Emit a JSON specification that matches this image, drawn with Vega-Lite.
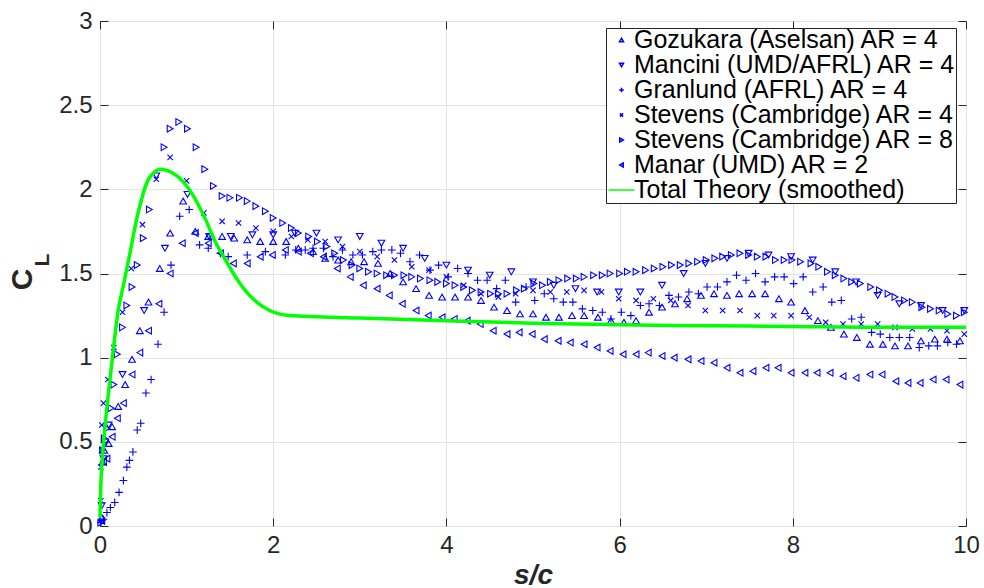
{
  "$schema": "https://vega.github.io/schema/vega-lite/v6.json",
  "width": 866,
  "height": 505,
  "autosize": {"type": "none"},
  "padding": {"left": 100, "top": 21, "right": 18, "bottom": 62},
  "background": "white",
  "config": {
    "view": {"stroke": "#262626", "strokeWidth": 1},
    "font": "Liberation Sans",
    "axis": {"labelFont": "Liberation Sans", "titleFont": "Liberation Sans", "labelColor": "#262626", "titleColor": "#262626", "tickColor": "#262626", "gridColor": "#e3e3e3", "gridOpacity": 1, "domain": false}
  },
  "datasets": {
    "pts": [
      {"s": "Gozukara (Aselsan) AR = 4", "x": 0.02, "y": 0.05},
      {"s": "Gozukara (Aselsan) AR = 4", "x": 0.03, "y": 0.38},
      {"s": "Gozukara (Aselsan) AR = 4", "x": 0.05, "y": 0.45},
      {"s": "Gozukara (Aselsan) AR = 4", "x": 0.10, "y": 0.49},
      {"s": "Gozukara (Aselsan) AR = 4", "x": 0.14, "y": 0.59},
      {"s": "Gozukara (Aselsan) AR = 4", "x": 0.21, "y": 0.71},
      {"s": "Gozukara (Aselsan) AR = 4", "x": 0.29, "y": 0.84},
      {"s": "Gozukara (Aselsan) AR = 4", "x": 0.37, "y": 0.99},
      {"s": "Gozukara (Aselsan) AR = 4", "x": 0.46, "y": 1.16},
      {"s": "Gozukara (Aselsan) AR = 4", "x": 0.56, "y": 1.33},
      {"s": "Gozukara (Aselsan) AR = 4", "x": 0.69, "y": 1.53},
      {"s": "Gozukara (Aselsan) AR = 4", "x": 0.81, "y": 1.74},
      {"s": "Gozukara (Aselsan) AR = 4", "x": 0.96, "y": 1.93},
      {"s": "Gozukara (Aselsan) AR = 4", "x": 1.10, "y": 1.75},
      {"s": "Gozukara (Aselsan) AR = 4", "x": 1.25, "y": 1.72},
      {"s": "Gozukara (Aselsan) AR = 4", "x": 1.41, "y": 1.72},
      {"s": "Gozukara (Aselsan) AR = 4", "x": 1.55, "y": 1.71},
      {"s": "Gozukara (Aselsan) AR = 4", "x": 1.70, "y": 1.70},
      {"s": "Gozukara (Aselsan) AR = 4", "x": 1.85, "y": 1.69},
      {"s": "Gozukara (Aselsan) AR = 4", "x": 2.00, "y": 1.69},
      {"s": "Gozukara (Aselsan) AR = 4", "x": 2.15, "y": 1.69},
      {"s": "Gozukara (Aselsan) AR = 4", "x": 2.29, "y": 1.65},
      {"s": "Gozukara (Aselsan) AR = 4", "x": 2.46, "y": 1.63},
      {"s": "Gozukara (Aselsan) AR = 4", "x": 2.60, "y": 1.59},
      {"s": "Gozukara (Aselsan) AR = 4", "x": 2.75, "y": 1.58},
      {"s": "Gozukara (Aselsan) AR = 4", "x": 2.90, "y": 1.57},
      {"s": "Gozukara (Aselsan) AR = 4", "x": 3.05, "y": 1.57},
      {"s": "Gozukara (Aselsan) AR = 4", "x": 3.21, "y": 1.56},
      {"s": "Gozukara (Aselsan) AR = 4", "x": 3.35, "y": 1.50},
      {"s": "Gozukara (Aselsan) AR = 4", "x": 3.50, "y": 1.45},
      {"s": "Gozukara (Aselsan) AR = 4", "x": 3.65, "y": 1.41},
      {"s": "Gozukara (Aselsan) AR = 4", "x": 3.80, "y": 1.37},
      {"s": "Gozukara (Aselsan) AR = 4", "x": 3.95, "y": 1.36},
      {"s": "Gozukara (Aselsan) AR = 4", "x": 4.10, "y": 1.36},
      {"s": "Gozukara (Aselsan) AR = 4", "x": 4.25, "y": 1.36},
      {"s": "Gozukara (Aselsan) AR = 4", "x": 4.40, "y": 1.34},
      {"s": "Gozukara (Aselsan) AR = 4", "x": 4.55, "y": 1.30},
      {"s": "Gozukara (Aselsan) AR = 4", "x": 4.70, "y": 1.28},
      {"s": "Gozukara (Aselsan) AR = 4", "x": 4.85, "y": 1.26},
      {"s": "Gozukara (Aselsan) AR = 4", "x": 5.00, "y": 1.26},
      {"s": "Gozukara (Aselsan) AR = 4", "x": 5.15, "y": 1.24},
      {"s": "Gozukara (Aselsan) AR = 4", "x": 5.30, "y": 1.24},
      {"s": "Gozukara (Aselsan) AR = 4", "x": 5.45, "y": 1.25},
      {"s": "Gozukara (Aselsan) AR = 4", "x": 5.59, "y": 1.25},
      {"s": "Gozukara (Aselsan) AR = 4", "x": 5.75, "y": 1.24},
      {"s": "Gozukara (Aselsan) AR = 4", "x": 5.90, "y": 1.22},
      {"s": "Gozukara (Aselsan) AR = 4", "x": 6.05, "y": 1.21},
      {"s": "Gozukara (Aselsan) AR = 4", "x": 6.19, "y": 1.22},
      {"s": "Gozukara (Aselsan) AR = 4", "x": 6.34, "y": 1.27},
      {"s": "Gozukara (Aselsan) AR = 4", "x": 6.49, "y": 1.30},
      {"s": "Gozukara (Aselsan) AR = 4", "x": 6.64, "y": 1.32},
      {"s": "Gozukara (Aselsan) AR = 4", "x": 6.78, "y": 1.35},
      {"s": "Gozukara (Aselsan) AR = 4", "x": 6.94, "y": 1.37},
      {"s": "Gozukara (Aselsan) AR = 4", "x": 7.09, "y": 1.38},
      {"s": "Gozukara (Aselsan) AR = 4", "x": 7.24, "y": 1.37},
      {"s": "Gozukara (Aselsan) AR = 4", "x": 7.38, "y": 1.38},
      {"s": "Gozukara (Aselsan) AR = 4", "x": 7.53, "y": 1.38},
      {"s": "Gozukara (Aselsan) AR = 4", "x": 7.68, "y": 1.38},
      {"s": "Gozukara (Aselsan) AR = 4", "x": 7.84, "y": 1.35},
      {"s": "Gozukara (Aselsan) AR = 4", "x": 7.98, "y": 1.33},
      {"s": "Gozukara (Aselsan) AR = 4", "x": 8.14, "y": 1.28},
      {"s": "Gozukara (Aselsan) AR = 4", "x": 8.29, "y": 1.22},
      {"s": "Gozukara (Aselsan) AR = 4", "x": 8.44, "y": 1.18},
      {"s": "Gozukara (Aselsan) AR = 4", "x": 8.59, "y": 1.14},
      {"s": "Gozukara (Aselsan) AR = 4", "x": 8.74, "y": 1.12},
      {"s": "Gozukara (Aselsan) AR = 4", "x": 8.89, "y": 1.08},
      {"s": "Gozukara (Aselsan) AR = 4", "x": 9.04, "y": 1.08},
      {"s": "Gozukara (Aselsan) AR = 4", "x": 9.18, "y": 1.07},
      {"s": "Gozukara (Aselsan) AR = 4", "x": 9.33, "y": 1.07},
      {"s": "Gozukara (Aselsan) AR = 4", "x": 9.48, "y": 1.10},
      {"s": "Gozukara (Aselsan) AR = 4", "x": 9.64, "y": 1.11},
      {"s": "Gozukara (Aselsan) AR = 4", "x": 9.78, "y": 1.11},
      {"s": "Gozukara (Aselsan) AR = 4", "x": 9.93, "y": 1.10},

      {"s": "Mancini (UMD/AFRL) AR = 4", "x": 0.02, "y": 0.12},
      {"s": "Mancini (UMD/AFRL) AR = 4", "x": 0.04, "y": 0.40},
      {"s": "Mancini (UMD/AFRL) AR = 4", "x": 0.06, "y": 0.50},
      {"s": "Mancini (UMD/AFRL) AR = 4", "x": 0.10, "y": 0.60},
      {"s": "Mancini (UMD/AFRL) AR = 4", "x": 0.26, "y": 0.90},
      {"s": "Mancini (UMD/AFRL) AR = 4", "x": 0.51, "y": 1.28},
      {"s": "Mancini (UMD/AFRL) AR = 4", "x": 0.65, "y": 2.08},
      {"s": "Mancini (UMD/AFRL) AR = 4", "x": 0.75, "y": 1.65},
      {"s": "Mancini (UMD/AFRL) AR = 4", "x": 1.01, "y": 1.97},
      {"s": "Mancini (UMD/AFRL) AR = 4", "x": 1.26, "y": 1.72},
      {"s": "Mancini (UMD/AFRL) AR = 4", "x": 1.51, "y": 1.72},
      {"s": "Mancini (UMD/AFRL) AR = 4", "x": 1.76, "y": 1.73},
      {"s": "Mancini (UMD/AFRL) AR = 4", "x": 2.00, "y": 1.73},
      {"s": "Mancini (UMD/AFRL) AR = 4", "x": 2.25, "y": 1.74},
      {"s": "Mancini (UMD/AFRL) AR = 4", "x": 2.50, "y": 1.74},
      {"s": "Mancini (UMD/AFRL) AR = 4", "x": 2.75, "y": 1.70},
      {"s": "Mancini (UMD/AFRL) AR = 4", "x": 3.00, "y": 1.72},
      {"s": "Mancini (UMD/AFRL) AR = 4", "x": 3.25, "y": 1.68},
      {"s": "Mancini (UMD/AFRL) AR = 4", "x": 3.50, "y": 1.65},
      {"s": "Mancini (UMD/AFRL) AR = 4", "x": 3.75, "y": 1.59},
      {"s": "Mancini (UMD/AFRL) AR = 4", "x": 4.00, "y": 1.55},
      {"s": "Mancini (UMD/AFRL) AR = 4", "x": 4.25, "y": 1.52},
      {"s": "Mancini (UMD/AFRL) AR = 4", "x": 4.50, "y": 1.49},
      {"s": "Mancini (UMD/AFRL) AR = 4", "x": 4.75, "y": 1.51},
      {"s": "Mancini (UMD/AFRL) AR = 4", "x": 5.00, "y": 1.45},
      {"s": "Mancini (UMD/AFRL) AR = 4", "x": 5.24, "y": 1.43},
      {"s": "Mancini (UMD/AFRL) AR = 4", "x": 5.49, "y": 1.41},
      {"s": "Mancini (UMD/AFRL) AR = 4", "x": 5.74, "y": 1.39},
      {"s": "Mancini (UMD/AFRL) AR = 4", "x": 5.99, "y": 1.39},
      {"s": "Mancini (UMD/AFRL) AR = 4", "x": 6.24, "y": 1.39},
      {"s": "Mancini (UMD/AFRL) AR = 4", "x": 6.49, "y": 1.43},
      {"s": "Mancini (UMD/AFRL) AR = 4", "x": 6.74, "y": 1.50},
      {"s": "Mancini (UMD/AFRL) AR = 4", "x": 6.99, "y": 1.56},
      {"s": "Mancini (UMD/AFRL) AR = 4", "x": 7.24, "y": 1.59},
      {"s": "Mancini (UMD/AFRL) AR = 4", "x": 7.49, "y": 1.62},
      {"s": "Mancini (UMD/AFRL) AR = 4", "x": 7.72, "y": 1.61},
      {"s": "Mancini (UMD/AFRL) AR = 4", "x": 7.98, "y": 1.60},
      {"s": "Mancini (UMD/AFRL) AR = 4", "x": 8.23, "y": 1.58},
      {"s": "Mancini (UMD/AFRL) AR = 4", "x": 8.49, "y": 1.51},
      {"s": "Mancini (UMD/AFRL) AR = 4", "x": 8.73, "y": 1.45},
      {"s": "Mancini (UMD/AFRL) AR = 4", "x": 8.98, "y": 1.37},
      {"s": "Mancini (UMD/AFRL) AR = 4", "x": 9.23, "y": 1.32},
      {"s": "Mancini (UMD/AFRL) AR = 4", "x": 9.48, "y": 1.31},
      {"s": "Mancini (UMD/AFRL) AR = 4", "x": 9.73, "y": 1.28},
      {"s": "Mancini (UMD/AFRL) AR = 4", "x": 9.98, "y": 1.28},

      {"s": "Granlund (AFRL) AR = 4", "x": 0.01, "y": 0.02},
      {"s": "Granlund (AFRL) AR = 4", "x": 0.04, "y": 0.04},
      {"s": "Granlund (AFRL) AR = 4", "x": 0.08, "y": 0.08},
      {"s": "Granlund (AFRL) AR = 4", "x": 0.12, "y": 0.11},
      {"s": "Granlund (AFRL) AR = 4", "x": 0.17, "y": 0.14},
      {"s": "Granlund (AFRL) AR = 4", "x": 0.22, "y": 0.20},
      {"s": "Granlund (AFRL) AR = 4", "x": 0.27, "y": 0.27},
      {"s": "Granlund (AFRL) AR = 4", "x": 0.31, "y": 0.35},
      {"s": "Granlund (AFRL) AR = 4", "x": 0.34, "y": 0.39},
      {"s": "Granlund (AFRL) AR = 4", "x": 0.38, "y": 0.44},
      {"s": "Granlund (AFRL) AR = 4", "x": 0.43, "y": 0.57},
      {"s": "Granlund (AFRL) AR = 4", "x": 0.47, "y": 0.61},
      {"s": "Granlund (AFRL) AR = 4", "x": 0.53, "y": 0.79},
      {"s": "Granlund (AFRL) AR = 4", "x": 0.59, "y": 0.87},
      {"s": "Granlund (AFRL) AR = 4", "x": 0.67, "y": 1.08},
      {"s": "Granlund (AFRL) AR = 4", "x": 0.74, "y": 1.27},
      {"s": "Granlund (AFRL) AR = 4", "x": 0.82, "y": 1.55},
      {"s": "Granlund (AFRL) AR = 4", "x": 0.92, "y": 1.84},
      {"s": "Granlund (AFRL) AR = 4", "x": 1.03, "y": 1.88},
      {"s": "Granlund (AFRL) AR = 4", "x": 1.15, "y": 1.67},
      {"s": "Granlund (AFRL) AR = 4", "x": 1.25, "y": 1.65},
      {"s": "Granlund (AFRL) AR = 4", "x": 1.39, "y": 1.62},
      {"s": "Granlund (AFRL) AR = 4", "x": 1.48, "y": 1.60},
      {"s": "Granlund (AFRL) AR = 4", "x": 1.70, "y": 1.61},
      {"s": "Granlund (AFRL) AR = 4", "x": 1.91, "y": 1.63},
      {"s": "Granlund (AFRL) AR = 4", "x": 2.14, "y": 1.61},
      {"s": "Granlund (AFRL) AR = 4", "x": 2.26, "y": 1.64},
      {"s": "Granlund (AFRL) AR = 4", "x": 2.37, "y": 1.64},
      {"s": "Granlund (AFRL) AR = 4", "x": 2.46, "y": 1.65},
      {"s": "Granlund (AFRL) AR = 4", "x": 2.58, "y": 1.65},
      {"s": "Granlund (AFRL) AR = 4", "x": 2.69, "y": 1.60},
      {"s": "Granlund (AFRL) AR = 4", "x": 2.80, "y": 1.64},
      {"s": "Granlund (AFRL) AR = 4", "x": 2.92, "y": 1.61},
      {"s": "Granlund (AFRL) AR = 4", "x": 3.03, "y": 1.61},
      {"s": "Granlund (AFRL) AR = 4", "x": 3.15, "y": 1.63},
      {"s": "Granlund (AFRL) AR = 4", "x": 3.25, "y": 1.64},
      {"s": "Granlund (AFRL) AR = 4", "x": 3.37, "y": 1.64},
      {"s": "Granlund (AFRL) AR = 4", "x": 3.47, "y": 1.62},
      {"s": "Granlund (AFRL) AR = 4", "x": 3.58, "y": 1.57},
      {"s": "Granlund (AFRL) AR = 4", "x": 3.69, "y": 1.61},
      {"s": "Granlund (AFRL) AR = 4", "x": 3.81, "y": 1.52},
      {"s": "Granlund (AFRL) AR = 4", "x": 3.91, "y": 1.55},
      {"s": "Granlund (AFRL) AR = 4", "x": 4.02, "y": 1.48},
      {"s": "Granlund (AFRL) AR = 4", "x": 4.13, "y": 1.53},
      {"s": "Granlund (AFRL) AR = 4", "x": 4.25, "y": 1.50},
      {"s": "Granlund (AFRL) AR = 4", "x": 4.36, "y": 1.46},
      {"s": "Granlund (AFRL) AR = 4", "x": 4.47, "y": 1.46},
      {"s": "Granlund (AFRL) AR = 4", "x": 4.58, "y": 1.41},
      {"s": "Granlund (AFRL) AR = 4", "x": 4.68, "y": 1.46},
      {"s": "Granlund (AFRL) AR = 4", "x": 4.80, "y": 1.33},
      {"s": "Granlund (AFRL) AR = 4", "x": 4.92, "y": 1.42},
      {"s": "Granlund (AFRL) AR = 4", "x": 5.02, "y": 1.34},
      {"s": "Granlund (AFRL) AR = 4", "x": 5.13, "y": 1.38},
      {"s": "Granlund (AFRL) AR = 4", "x": 5.24, "y": 1.35},
      {"s": "Granlund (AFRL) AR = 4", "x": 5.35, "y": 1.33},
      {"s": "Granlund (AFRL) AR = 4", "x": 5.46, "y": 1.33},
      {"s": "Granlund (AFRL) AR = 4", "x": 5.57, "y": 1.29},
      {"s": "Granlund (AFRL) AR = 4", "x": 5.69, "y": 1.28},
      {"s": "Granlund (AFRL) AR = 4", "x": 5.80, "y": 1.27},
      {"s": "Granlund (AFRL) AR = 4", "x": 5.90, "y": 1.23},
      {"s": "Granlund (AFRL) AR = 4", "x": 6.02, "y": 1.27},
      {"s": "Granlund (AFRL) AR = 4", "x": 6.13, "y": 1.25},
      {"s": "Granlund (AFRL) AR = 4", "x": 6.24, "y": 1.31},
      {"s": "Granlund (AFRL) AR = 4", "x": 6.34, "y": 1.32},
      {"s": "Granlund (AFRL) AR = 4", "x": 6.46, "y": 1.31},
      {"s": "Granlund (AFRL) AR = 4", "x": 6.57, "y": 1.37},
      {"s": "Granlund (AFRL) AR = 4", "x": 6.68, "y": 1.36},
      {"s": "Granlund (AFRL) AR = 4", "x": 6.80, "y": 1.39},
      {"s": "Granlund (AFRL) AR = 4", "x": 6.91, "y": 1.38},
      {"s": "Granlund (AFRL) AR = 4", "x": 7.01, "y": 1.42},
      {"s": "Granlund (AFRL) AR = 4", "x": 7.13, "y": 1.42},
      {"s": "Granlund (AFRL) AR = 4", "x": 7.24, "y": 1.45},
      {"s": "Granlund (AFRL) AR = 4", "x": 7.35, "y": 1.49},
      {"s": "Granlund (AFRL) AR = 4", "x": 7.46, "y": 1.46},
      {"s": "Granlund (AFRL) AR = 4", "x": 7.57, "y": 1.50},
      {"s": "Granlund (AFRL) AR = 4", "x": 7.68, "y": 1.45},
      {"s": "Granlund (AFRL) AR = 4", "x": 7.79, "y": 1.48},
      {"s": "Granlund (AFRL) AR = 4", "x": 7.90, "y": 1.48},
      {"s": "Granlund (AFRL) AR = 4", "x": 8.01, "y": 1.44},
      {"s": "Granlund (AFRL) AR = 4", "x": 8.12, "y": 1.48},
      {"s": "Granlund (AFRL) AR = 4", "x": 8.23, "y": 1.39},
      {"s": "Granlund (AFRL) AR = 4", "x": 8.35, "y": 1.42},
      {"s": "Granlund (AFRL) AR = 4", "x": 8.45, "y": 1.33},
      {"s": "Granlund (AFRL) AR = 4", "x": 8.56, "y": 1.34},
      {"s": "Granlund (AFRL) AR = 4", "x": 8.68, "y": 1.23},
      {"s": "Granlund (AFRL) AR = 4", "x": 8.79, "y": 1.24},
      {"s": "Granlund (AFRL) AR = 4", "x": 8.91, "y": 1.15},
      {"s": "Granlund (AFRL) AR = 4", "x": 9.01, "y": 1.14},
      {"s": "Granlund (AFRL) AR = 4", "x": 9.12, "y": 1.12},
      {"s": "Granlund (AFRL) AR = 4", "x": 9.23, "y": 1.12},
      {"s": "Granlund (AFRL) AR = 4", "x": 9.35, "y": 1.12},
      {"s": "Granlund (AFRL) AR = 4", "x": 9.46, "y": 1.06},
      {"s": "Granlund (AFRL) AR = 4", "x": 9.57, "y": 1.07},
      {"s": "Granlund (AFRL) AR = 4", "x": 9.67, "y": 1.07},
      {"s": "Granlund (AFRL) AR = 4", "x": 9.79, "y": 1.09},
      {"s": "Granlund (AFRL) AR = 4", "x": 9.89, "y": 1.08},

      {"s": "Stevens (Cambridge) AR = 4", "x": 0.01, "y": 0.15},
      {"s": "Stevens (Cambridge) AR = 4", "x": 0.01, "y": 0.35},
      {"s": "Stevens (Cambridge) AR = 4", "x": 0.02, "y": 0.45},
      {"s": "Stevens (Cambridge) AR = 4", "x": 0.02, "y": 0.60},
      {"s": "Stevens (Cambridge) AR = 4", "x": 0.04, "y": 0.73},
      {"s": "Stevens (Cambridge) AR = 4", "x": 0.09, "y": 0.87},
      {"s": "Stevens (Cambridge) AR = 4", "x": 0.16, "y": 1.06},
      {"s": "Stevens (Cambridge) AR = 4", "x": 0.26, "y": 1.27},
      {"s": "Stevens (Cambridge) AR = 4", "x": 0.36, "y": 1.53},
      {"s": "Stevens (Cambridge) AR = 4", "x": 0.49, "y": 1.79},
      {"s": "Stevens (Cambridge) AR = 4", "x": 0.65, "y": 2.06},
      {"s": "Stevens (Cambridge) AR = 4", "x": 0.81, "y": 2.19},
      {"s": "Stevens (Cambridge) AR = 4", "x": 1.00, "y": 2.05},
      {"s": "Stevens (Cambridge) AR = 4", "x": 1.20, "y": 1.86},
      {"s": "Stevens (Cambridge) AR = 4", "x": 1.41, "y": 1.81},
      {"s": "Stevens (Cambridge) AR = 4", "x": 1.60, "y": 1.80},
      {"s": "Stevens (Cambridge) AR = 4", "x": 1.80, "y": 1.77},
      {"s": "Stevens (Cambridge) AR = 4", "x": 2.00, "y": 1.75},
      {"s": "Stevens (Cambridge) AR = 4", "x": 2.21, "y": 1.72},
      {"s": "Stevens (Cambridge) AR = 4", "x": 2.40, "y": 1.70},
      {"s": "Stevens (Cambridge) AR = 4", "x": 2.60, "y": 1.69},
      {"s": "Stevens (Cambridge) AR = 4", "x": 2.80, "y": 1.66},
      {"s": "Stevens (Cambridge) AR = 4", "x": 3.00, "y": 1.63},
      {"s": "Stevens (Cambridge) AR = 4", "x": 3.20, "y": 1.60},
      {"s": "Stevens (Cambridge) AR = 4", "x": 3.40, "y": 1.58},
      {"s": "Stevens (Cambridge) AR = 4", "x": 3.60, "y": 1.54},
      {"s": "Stevens (Cambridge) AR = 4", "x": 3.80, "y": 1.52},
      {"s": "Stevens (Cambridge) AR = 4", "x": 4.00, "y": 1.48},
      {"s": "Stevens (Cambridge) AR = 4", "x": 4.20, "y": 1.43},
      {"s": "Stevens (Cambridge) AR = 4", "x": 4.40, "y": 1.38},
      {"s": "Stevens (Cambridge) AR = 4", "x": 4.60, "y": 1.36},
      {"s": "Stevens (Cambridge) AR = 4", "x": 4.80, "y": 1.38},
      {"s": "Stevens (Cambridge) AR = 4", "x": 5.00, "y": 1.40},
      {"s": "Stevens (Cambridge) AR = 4", "x": 5.20, "y": 1.39},
      {"s": "Stevens (Cambridge) AR = 4", "x": 5.39, "y": 1.39},
      {"s": "Stevens (Cambridge) AR = 4", "x": 5.59, "y": 1.40},
      {"s": "Stevens (Cambridge) AR = 4", "x": 5.79, "y": 1.39},
      {"s": "Stevens (Cambridge) AR = 4", "x": 5.99, "y": 1.35},
      {"s": "Stevens (Cambridge) AR = 4", "x": 6.19, "y": 1.34},
      {"s": "Stevens (Cambridge) AR = 4", "x": 6.39, "y": 1.35},
      {"s": "Stevens (Cambridge) AR = 4", "x": 6.59, "y": 1.34},
      {"s": "Stevens (Cambridge) AR = 4", "x": 6.79, "y": 1.31},
      {"s": "Stevens (Cambridge) AR = 4", "x": 6.99, "y": 1.28},
      {"s": "Stevens (Cambridge) AR = 4", "x": 7.19, "y": 1.28},
      {"s": "Stevens (Cambridge) AR = 4", "x": 7.39, "y": 1.28},
      {"s": "Stevens (Cambridge) AR = 4", "x": 7.59, "y": 1.25},
      {"s": "Stevens (Cambridge) AR = 4", "x": 7.78, "y": 1.25},
      {"s": "Stevens (Cambridge) AR = 4", "x": 7.98, "y": 1.25},
      {"s": "Stevens (Cambridge) AR = 4", "x": 8.19, "y": 1.24},
      {"s": "Stevens (Cambridge) AR = 4", "x": 8.38, "y": 1.21},
      {"s": "Stevens (Cambridge) AR = 4", "x": 8.58, "y": 1.20},
      {"s": "Stevens (Cambridge) AR = 4", "x": 8.79, "y": 1.20},
      {"s": "Stevens (Cambridge) AR = 4", "x": 8.98, "y": 1.20},
      {"s": "Stevens (Cambridge) AR = 4", "x": 9.18, "y": 1.18},
      {"s": "Stevens (Cambridge) AR = 4", "x": 9.38, "y": 1.17},
      {"s": "Stevens (Cambridge) AR = 4", "x": 9.59, "y": 1.17},
      {"s": "Stevens (Cambridge) AR = 4", "x": 9.78, "y": 1.16},
      {"s": "Stevens (Cambridge) AR = 4", "x": 9.98, "y": 1.14},

      {"s": "Stevens (Cambridge) AR = 8", "x": 0.01, "y": 0.02},
      {"s": "Stevens (Cambridge) AR = 8", "x": 0.03, "y": 0.45},
      {"s": "Stevens (Cambridge) AR = 8", "x": 0.05, "y": 0.52},
      {"s": "Stevens (Cambridge) AR = 8", "x": 0.08, "y": 0.58},
      {"s": "Stevens (Cambridge) AR = 8", "x": 0.13, "y": 0.70},
      {"s": "Stevens (Cambridge) AR = 8", "x": 0.16, "y": 0.84},
      {"s": "Stevens (Cambridge) AR = 8", "x": 0.20, "y": 1.02},
      {"s": "Stevens (Cambridge) AR = 8", "x": 0.26, "y": 1.18},
      {"s": "Stevens (Cambridge) AR = 8", "x": 0.31, "y": 1.31},
      {"s": "Stevens (Cambridge) AR = 8", "x": 0.37, "y": 1.42},
      {"s": "Stevens (Cambridge) AR = 8", "x": 0.43, "y": 1.55},
      {"s": "Stevens (Cambridge) AR = 8", "x": 0.50, "y": 1.71},
      {"s": "Stevens (Cambridge) AR = 8", "x": 0.57, "y": 1.88},
      {"s": "Stevens (Cambridge) AR = 8", "x": 0.74, "y": 2.25},
      {"s": "Stevens (Cambridge) AR = 8", "x": 0.81, "y": 2.36},
      {"s": "Stevens (Cambridge) AR = 8", "x": 0.91, "y": 2.40},
      {"s": "Stevens (Cambridge) AR = 8", "x": 1.01, "y": 2.36},
      {"s": "Stevens (Cambridge) AR = 8", "x": 1.11, "y": 2.25},
      {"s": "Stevens (Cambridge) AR = 8", "x": 1.21, "y": 2.12},
      {"s": "Stevens (Cambridge) AR = 8", "x": 1.31, "y": 2.02},
      {"s": "Stevens (Cambridge) AR = 8", "x": 1.41, "y": 1.96},
      {"s": "Stevens (Cambridge) AR = 8", "x": 1.50, "y": 1.95},
      {"s": "Stevens (Cambridge) AR = 8", "x": 1.61, "y": 1.95},
      {"s": "Stevens (Cambridge) AR = 8", "x": 1.70, "y": 1.93},
      {"s": "Stevens (Cambridge) AR = 8", "x": 1.80, "y": 1.90},
      {"s": "Stevens (Cambridge) AR = 8", "x": 1.91, "y": 1.87},
      {"s": "Stevens (Cambridge) AR = 8", "x": 2.00, "y": 1.83},
      {"s": "Stevens (Cambridge) AR = 8", "x": 2.11, "y": 1.80},
      {"s": "Stevens (Cambridge) AR = 8", "x": 2.21, "y": 1.77},
      {"s": "Stevens (Cambridge) AR = 8", "x": 2.29, "y": 1.74},
      {"s": "Stevens (Cambridge) AR = 8", "x": 2.41, "y": 1.72},
      {"s": "Stevens (Cambridge) AR = 8", "x": 2.51, "y": 1.69},
      {"s": "Stevens (Cambridge) AR = 8", "x": 2.62, "y": 1.66},
      {"s": "Stevens (Cambridge) AR = 8", "x": 2.71, "y": 1.62},
      {"s": "Stevens (Cambridge) AR = 8", "x": 2.81, "y": 1.58},
      {"s": "Stevens (Cambridge) AR = 8", "x": 2.91, "y": 1.55},
      {"s": "Stevens (Cambridge) AR = 8", "x": 3.00, "y": 1.53},
      {"s": "Stevens (Cambridge) AR = 8", "x": 3.10, "y": 1.51},
      {"s": "Stevens (Cambridge) AR = 8", "x": 3.20, "y": 1.50},
      {"s": "Stevens (Cambridge) AR = 8", "x": 3.31, "y": 1.49},
      {"s": "Stevens (Cambridge) AR = 8", "x": 3.40, "y": 1.49},
      {"s": "Stevens (Cambridge) AR = 8", "x": 3.51, "y": 1.49},
      {"s": "Stevens (Cambridge) AR = 8", "x": 3.60, "y": 1.48},
      {"s": "Stevens (Cambridge) AR = 8", "x": 3.70, "y": 1.47},
      {"s": "Stevens (Cambridge) AR = 8", "x": 3.81, "y": 1.46},
      {"s": "Stevens (Cambridge) AR = 8", "x": 3.90, "y": 1.45},
      {"s": "Stevens (Cambridge) AR = 8", "x": 4.00, "y": 1.44},
      {"s": "Stevens (Cambridge) AR = 8", "x": 4.10, "y": 1.43},
      {"s": "Stevens (Cambridge) AR = 8", "x": 4.20, "y": 1.42},
      {"s": "Stevens (Cambridge) AR = 8", "x": 4.30, "y": 1.40},
      {"s": "Stevens (Cambridge) AR = 8", "x": 4.40, "y": 1.39},
      {"s": "Stevens (Cambridge) AR = 8", "x": 4.51, "y": 1.38},
      {"s": "Stevens (Cambridge) AR = 8", "x": 4.60, "y": 1.38},
      {"s": "Stevens (Cambridge) AR = 8", "x": 4.70, "y": 1.38},
      {"s": "Stevens (Cambridge) AR = 8", "x": 4.81, "y": 1.40},
      {"s": "Stevens (Cambridge) AR = 8", "x": 4.90, "y": 1.41},
      {"s": "Stevens (Cambridge) AR = 8", "x": 5.01, "y": 1.44},
      {"s": "Stevens (Cambridge) AR = 8", "x": 5.11, "y": 1.43},
      {"s": "Stevens (Cambridge) AR = 8", "x": 5.20, "y": 1.45},
      {"s": "Stevens (Cambridge) AR = 8", "x": 5.30, "y": 1.46},
      {"s": "Stevens (Cambridge) AR = 8", "x": 5.40, "y": 1.47},
      {"s": "Stevens (Cambridge) AR = 8", "x": 5.50, "y": 1.47},
      {"s": "Stevens (Cambridge) AR = 8", "x": 5.59, "y": 1.48},
      {"s": "Stevens (Cambridge) AR = 8", "x": 5.70, "y": 1.49},
      {"s": "Stevens (Cambridge) AR = 8", "x": 5.80, "y": 1.49},
      {"s": "Stevens (Cambridge) AR = 8", "x": 5.89, "y": 1.50},
      {"s": "Stevens (Cambridge) AR = 8", "x": 6.00, "y": 1.50},
      {"s": "Stevens (Cambridge) AR = 8", "x": 6.09, "y": 1.51},
      {"s": "Stevens (Cambridge) AR = 8", "x": 6.19, "y": 1.51},
      {"s": "Stevens (Cambridge) AR = 8", "x": 6.30, "y": 1.52},
      {"s": "Stevens (Cambridge) AR = 8", "x": 6.40, "y": 1.53},
      {"s": "Stevens (Cambridge) AR = 8", "x": 6.50, "y": 1.54},
      {"s": "Stevens (Cambridge) AR = 8", "x": 6.60, "y": 1.55},
      {"s": "Stevens (Cambridge) AR = 8", "x": 6.70, "y": 1.55},
      {"s": "Stevens (Cambridge) AR = 8", "x": 6.80, "y": 1.56},
      {"s": "Stevens (Cambridge) AR = 8", "x": 6.90, "y": 1.57},
      {"s": "Stevens (Cambridge) AR = 8", "x": 7.00, "y": 1.58},
      {"s": "Stevens (Cambridge) AR = 8", "x": 7.10, "y": 1.59},
      {"s": "Stevens (Cambridge) AR = 8", "x": 7.19, "y": 1.60},
      {"s": "Stevens (Cambridge) AR = 8", "x": 7.29, "y": 1.61},
      {"s": "Stevens (Cambridge) AR = 8", "x": 7.39, "y": 1.62},
      {"s": "Stevens (Cambridge) AR = 8", "x": 7.49, "y": 1.61},
      {"s": "Stevens (Cambridge) AR = 8", "x": 7.59, "y": 1.60},
      {"s": "Stevens (Cambridge) AR = 8", "x": 7.69, "y": 1.60},
      {"s": "Stevens (Cambridge) AR = 8", "x": 7.80, "y": 1.58},
      {"s": "Stevens (Cambridge) AR = 8", "x": 7.90, "y": 1.58},
      {"s": "Stevens (Cambridge) AR = 8", "x": 7.99, "y": 1.58},
      {"s": "Stevens (Cambridge) AR = 8", "x": 8.09, "y": 1.57},
      {"s": "Stevens (Cambridge) AR = 8", "x": 8.21, "y": 1.56},
      {"s": "Stevens (Cambridge) AR = 8", "x": 8.30, "y": 1.54},
      {"s": "Stevens (Cambridge) AR = 8", "x": 8.40, "y": 1.51},
      {"s": "Stevens (Cambridge) AR = 8", "x": 8.49, "y": 1.49},
      {"s": "Stevens (Cambridge) AR = 8", "x": 8.59, "y": 1.47},
      {"s": "Stevens (Cambridge) AR = 8", "x": 8.68, "y": 1.45},
      {"s": "Stevens (Cambridge) AR = 8", "x": 8.78, "y": 1.44},
      {"s": "Stevens (Cambridge) AR = 8", "x": 8.90, "y": 1.42},
      {"s": "Stevens (Cambridge) AR = 8", "x": 9.00, "y": 1.40},
      {"s": "Stevens (Cambridge) AR = 8", "x": 9.10, "y": 1.38},
      {"s": "Stevens (Cambridge) AR = 8", "x": 9.18, "y": 1.36},
      {"s": "Stevens (Cambridge) AR = 8", "x": 9.29, "y": 1.34},
      {"s": "Stevens (Cambridge) AR = 8", "x": 9.38, "y": 1.33},
      {"s": "Stevens (Cambridge) AR = 8", "x": 9.49, "y": 1.30},
      {"s": "Stevens (Cambridge) AR = 8", "x": 9.59, "y": 1.29},
      {"s": "Stevens (Cambridge) AR = 8", "x": 9.69, "y": 1.28},
      {"s": "Stevens (Cambridge) AR = 8", "x": 9.79, "y": 1.26},
      {"s": "Stevens (Cambridge) AR = 8", "x": 9.89, "y": 1.25},
      {"s": "Stevens (Cambridge) AR = 8", "x": 9.98, "y": 1.27},

      {"s": "Manar (UMD) AR = 2", "x": 0.02, "y": 0.03},
      {"s": "Manar (UMD) AR = 2", "x": 0.04, "y": 0.38},
      {"s": "Manar (UMD) AR = 2", "x": 0.08, "y": 0.40},
      {"s": "Manar (UMD) AR = 2", "x": 0.14, "y": 0.53},
      {"s": "Manar (UMD) AR = 2", "x": 0.20, "y": 0.64},
      {"s": "Manar (UMD) AR = 2", "x": 0.27, "y": 0.73},
      {"s": "Manar (UMD) AR = 2", "x": 0.37, "y": 0.90},
      {"s": "Manar (UMD) AR = 2", "x": 0.46, "y": 1.03},
      {"s": "Manar (UMD) AR = 2", "x": 0.56, "y": 1.16},
      {"s": "Manar (UMD) AR = 2", "x": 0.68, "y": 1.32},
      {"s": "Manar (UMD) AR = 2", "x": 0.81, "y": 1.50},
      {"s": "Manar (UMD) AR = 2", "x": 0.95, "y": 1.68},
      {"s": "Manar (UMD) AR = 2", "x": 1.10, "y": 1.74},
      {"s": "Manar (UMD) AR = 2", "x": 1.25, "y": 1.68},
      {"s": "Manar (UMD) AR = 2", "x": 1.39, "y": 1.62},
      {"s": "Manar (UMD) AR = 2", "x": 1.54, "y": 1.56},
      {"s": "Manar (UMD) AR = 2", "x": 1.70, "y": 1.56},
      {"s": "Manar (UMD) AR = 2", "x": 1.85, "y": 1.60},
      {"s": "Manar (UMD) AR = 2", "x": 1.99, "y": 1.61},
      {"s": "Manar (UMD) AR = 2", "x": 2.14, "y": 1.64},
      {"s": "Manar (UMD) AR = 2", "x": 2.29, "y": 1.63},
      {"s": "Manar (UMD) AR = 2", "x": 2.43, "y": 1.62},
      {"s": "Manar (UMD) AR = 2", "x": 2.58, "y": 1.60},
      {"s": "Manar (UMD) AR = 2", "x": 2.74, "y": 1.53},
      {"s": "Manar (UMD) AR = 2", "x": 2.89, "y": 1.48},
      {"s": "Manar (UMD) AR = 2", "x": 3.04, "y": 1.43},
      {"s": "Manar (UMD) AR = 2", "x": 3.20, "y": 1.41},
      {"s": "Manar (UMD) AR = 2", "x": 3.34, "y": 1.37},
      {"s": "Manar (UMD) AR = 2", "x": 3.49, "y": 1.32},
      {"s": "Manar (UMD) AR = 2", "x": 3.65, "y": 1.28},
      {"s": "Manar (UMD) AR = 2", "x": 3.79, "y": 1.25},
      {"s": "Manar (UMD) AR = 2", "x": 3.95, "y": 1.24},
      {"s": "Manar (UMD) AR = 2", "x": 4.09, "y": 1.23},
      {"s": "Manar (UMD) AR = 2", "x": 4.24, "y": 1.22},
      {"s": "Manar (UMD) AR = 2", "x": 4.39, "y": 1.20},
      {"s": "Manar (UMD) AR = 2", "x": 4.54, "y": 1.16},
      {"s": "Manar (UMD) AR = 2", "x": 4.70, "y": 1.14},
      {"s": "Manar (UMD) AR = 2", "x": 4.84, "y": 1.15},
      {"s": "Manar (UMD) AR = 2", "x": 4.99, "y": 1.14},
      {"s": "Manar (UMD) AR = 2", "x": 5.13, "y": 1.11},
      {"s": "Manar (UMD) AR = 2", "x": 5.29, "y": 1.10},
      {"s": "Manar (UMD) AR = 2", "x": 5.43, "y": 1.09},
      {"s": "Manar (UMD) AR = 2", "x": 5.59, "y": 1.08},
      {"s": "Manar (UMD) AR = 2", "x": 5.74, "y": 1.06},
      {"s": "Manar (UMD) AR = 2", "x": 5.89, "y": 1.04},
      {"s": "Manar (UMD) AR = 2", "x": 6.04, "y": 1.02},
      {"s": "Manar (UMD) AR = 2", "x": 6.19, "y": 1.02},
      {"s": "Manar (UMD) AR = 2", "x": 6.33, "y": 1.03},
      {"s": "Manar (UMD) AR = 2", "x": 6.49, "y": 1.01},
      {"s": "Manar (UMD) AR = 2", "x": 6.63, "y": 1.00},
      {"s": "Manar (UMD) AR = 2", "x": 6.79, "y": 0.99},
      {"s": "Manar (UMD) AR = 2", "x": 6.94, "y": 0.98},
      {"s": "Manar (UMD) AR = 2", "x": 7.09, "y": 0.97},
      {"s": "Manar (UMD) AR = 2", "x": 7.24, "y": 0.94},
      {"s": "Manar (UMD) AR = 2", "x": 7.39, "y": 0.91},
      {"s": "Manar (UMD) AR = 2", "x": 7.54, "y": 0.92},
      {"s": "Manar (UMD) AR = 2", "x": 7.69, "y": 0.94},
      {"s": "Manar (UMD) AR = 2", "x": 7.83, "y": 0.94},
      {"s": "Manar (UMD) AR = 2", "x": 7.98, "y": 0.91},
      {"s": "Manar (UMD) AR = 2", "x": 8.14, "y": 0.91},
      {"s": "Manar (UMD) AR = 2", "x": 8.28, "y": 0.91},
      {"s": "Manar (UMD) AR = 2", "x": 8.43, "y": 0.91},
      {"s": "Manar (UMD) AR = 2", "x": 8.58, "y": 0.89},
      {"s": "Manar (UMD) AR = 2", "x": 8.73, "y": 0.88},
      {"s": "Manar (UMD) AR = 2", "x": 8.89, "y": 0.90},
      {"s": "Manar (UMD) AR = 2", "x": 9.03, "y": 0.90},
      {"s": "Manar (UMD) AR = 2", "x": 9.19, "y": 0.86},
      {"s": "Manar (UMD) AR = 2", "x": 9.33, "y": 0.85},
      {"s": "Manar (UMD) AR = 2", "x": 9.47, "y": 0.85},
      {"s": "Manar (UMD) AR = 2", "x": 9.62, "y": 0.87},
      {"s": "Manar (UMD) AR = 2", "x": 9.77, "y": 0.87},
      {"s": "Manar (UMD) AR = 2", "x": 9.93, "y": 0.84}
    ],
    "theory": [
      {"s": "Total Theory (smoothed)", "x": 0.0, "y": 0.05},
      {"s": "Total Theory (smoothed)", "x": 0.01, "y": 0.25},
      {"s": "Total Theory (smoothed)", "x": 0.03, "y": 0.42},
      {"s": "Total Theory (smoothed)", "x": 0.06, "y": 0.60},
      {"s": "Total Theory (smoothed)", "x": 0.10, "y": 0.80},
      {"s": "Total Theory (smoothed)", "x": 0.15, "y": 1.03},
      {"s": "Total Theory (smoothed)", "x": 0.21, "y": 1.28},
      {"s": "Total Theory (smoothed)", "x": 0.27, "y": 1.43},
      {"s": "Total Theory (smoothed)", "x": 0.33, "y": 1.58},
      {"s": "Total Theory (smoothed)", "x": 0.44, "y": 1.86},
      {"s": "Total Theory (smoothed)", "x": 0.56, "y": 2.06},
      {"s": "Total Theory (smoothed)", "x": 0.70, "y": 2.12},
      {"s": "Total Theory (smoothed)", "x": 0.83, "y": 2.10},
      {"s": "Total Theory (smoothed)", "x": 0.97, "y": 2.04},
      {"s": "Total Theory (smoothed)", "x": 1.08, "y": 1.96},
      {"s": "Total Theory (smoothed)", "x": 1.22, "y": 1.82},
      {"s": "Total Theory (smoothed)", "x": 1.33, "y": 1.69},
      {"s": "Total Theory (smoothed)", "x": 1.45, "y": 1.58},
      {"s": "Total Theory (smoothed)", "x": 1.54, "y": 1.50},
      {"s": "Total Theory (smoothed)", "x": 1.66, "y": 1.41},
      {"s": "Total Theory (smoothed)", "x": 1.81, "y": 1.33},
      {"s": "Total Theory (smoothed)", "x": 1.96, "y": 1.28},
      {"s": "Total Theory (smoothed)", "x": 2.19, "y": 1.25},
      {"s": "Total Theory (smoothed)", "x": 3.0, "y": 1.235},
      {"s": "Total Theory (smoothed)", "x": 4.0, "y": 1.22},
      {"s": "Total Theory (smoothed)", "x": 5.0, "y": 1.205},
      {"s": "Total Theory (smoothed)", "x": 6.0, "y": 1.195},
      {"s": "Total Theory (smoothed)", "x": 7.0, "y": 1.19},
      {"s": "Total Theory (smoothed)", "x": 8.0, "y": 1.185},
      {"s": "Total Theory (smoothed)", "x": 9.0, "y": 1.18},
      {"s": "Total Theory (smoothed)", "x": 10.0, "y": 1.18}
    ]
  },
  "layer": [
    {
      "data": {"name": "pts"},
      "mark": {"type": "point", "filled": false, "size": 45, "strokeWidth": 1.1, "opacity": 1},
      "encoding": {
        "x": {"field": "x", "type": "quantitative",
          "scale": {"domain": [0, 10], "nice": false, "zero": false},
          "axis": {"orient": "bottom", "values": [0, 2, 4, 6, 8, 10], "grid": true, "tickSize": -8, "labelFontSize": 24, "labelPadding": 15, "labelFlush": false,
            "title": "s/c", "titleFontSize": 28, "titleFontWeight": "bold", "titleFontStyle": "italic", "titleX": 433, "titleY": 57, "titleBaseline": "alphabetic", "titleAlign": "center"}},
        "y": {"field": "y", "type": "quantitative",
          "scale": {"domain": [0, 3], "nice": false, "zero": false},
          "axis": {"orient": "left", "values": [0, 0.5, 1, 1.5, 2, 2.5, 3], "format": "~g", "grid": true, "tickSize": -8, "labelFontSize": 24, "labelPadding": 16, "labelFlush": false,
            "title": "C", "titleFontSize": 30, "titleFontWeight": "bold", "titleAngle": 270, "titleX": -78, "titleY": 258, "titleBaseline": "middle", "titleAlign": "center"}},
        "color": {"field": "s", "type": "nominal",
          "scale": {"domain": ["Gozukara (Aselsan) AR = 4", "Mancini (UMD/AFRL) AR = 4", "Granlund (AFRL) AR = 4", "Stevens (Cambridge) AR = 4", "Stevens (Cambridge) AR = 8", "Manar (UMD) AR = 2", "Total Theory (smoothed)"],
                    "range": ["#0000ff", "#0000ff", "#0000ff", "#0000ff", "#0000ff", "#0000ff", "#00ff00"]},
          "legend": {"title": null, "orient": "none", "legendX": 506, "legendY": 7, "strokeColor": "#262626", "fillColor": "white", "padding": 0, "cornerRadius": 0,
            "labelFontSize": 25, "labelFont": "Liberation Sans", "labelColor": "#000000", "labelLimit": 400, "rowPadding": 0, "clipHeight": 24,
            "symbolSize": 16, "symbolOffset": 3, "labelOffset": 0,
            "encode": {"symbols": {"update": {
              "shape": {"signal": "['triangle-up','triangle-down','M-1.15,0L1.15,0M0,-1.15L0,1.15','M-0.8,-0.8L0.8,0.8M-0.8,0.8L0.8,-0.8','triangle-right','triangle-left','M-6.5,-0.45L6.5,-0.45L6.5,0.45L-6.5,0.45Z'][indexof(['Gozukara (Aselsan) AR = 4','Mancini (UMD/AFRL) AR = 4','Granlund (AFRL) AR = 4','Stevens (Cambridge) AR = 4','Stevens (Cambridge) AR = 8','Manar (UMD) AR = 2','Total Theory (smoothed)'], datum.value)]"},
              "stroke": {"signal": "datum.value === 'Total Theory (smoothed)' ? '#00ff00' : '#0000ff'"},
              "fill": {"signal": "datum.value === 'Total Theory (smoothed)' ? '#00ff00' : 'transparent'"},
              "strokeWidth": {"value": 1}}}}}},
        "shape": {"field": "s", "type": "nominal",
          "scale": {"domain": ["Gozukara (Aselsan) AR = 4", "Mancini (UMD/AFRL) AR = 4", "Granlund (AFRL) AR = 4", "Stevens (Cambridge) AR = 4", "Stevens (Cambridge) AR = 8", "Manar (UMD) AR = 2", "Total Theory (smoothed)"],
                    "range": ["triangle-up", "triangle-down", "M-1.15,0L1.15,0M0,-1.15L0,1.15", "M-0.8,-0.8L0.8,0.8M-0.8,0.8L0.8,-0.8", "triangle-right", "triangle-left", "M-6.5,0L6.5,0"]},
          "legend": null}
      }
    },
    {
      "data": {"name": "theory"},
      "mark": {"type": "line", "strokeWidth": 3.5, "interpolate": "monotone"},
      "encoding": {
        "x": {"field": "x", "type": "quantitative",
          "axis": {"orient": "top", "values": [0, 2, 4, 6, 8, 10], "grid": false, "labels": false, "tickSize": -8, "title": null}},
        "y": {"field": "y", "type": "quantitative",
          "axis": {"orient": "right", "values": [0, 0.5, 1, 1.5, 2, 2.5, 3], "grid": false, "labels": false, "tickSize": -8, "title": null}},
        "color": {"field": "s", "type": "nominal", "legend": null}
      }
    },
    {
      "data": {"values": [{"t": "L"}]},
      "mark": {"type": "text", "fontSize": 21, "fontWeight": "bold", "angle": 270, "font": "Liberation Sans", "color": "#262626", "clip": false, "align": "center", "baseline": "middle"},
      "encoding": {
        "text": {"field": "t", "type": "nominal"},
        "x": {"datum": -0.66, "type": "quantitative", "axis": null},
        "y": {"datum": 1.58, "type": "quantitative", "axis": null}
      }
    }
  ],
  "resolve": {"axis": {"x": "independent", "y": "independent"}}
}
